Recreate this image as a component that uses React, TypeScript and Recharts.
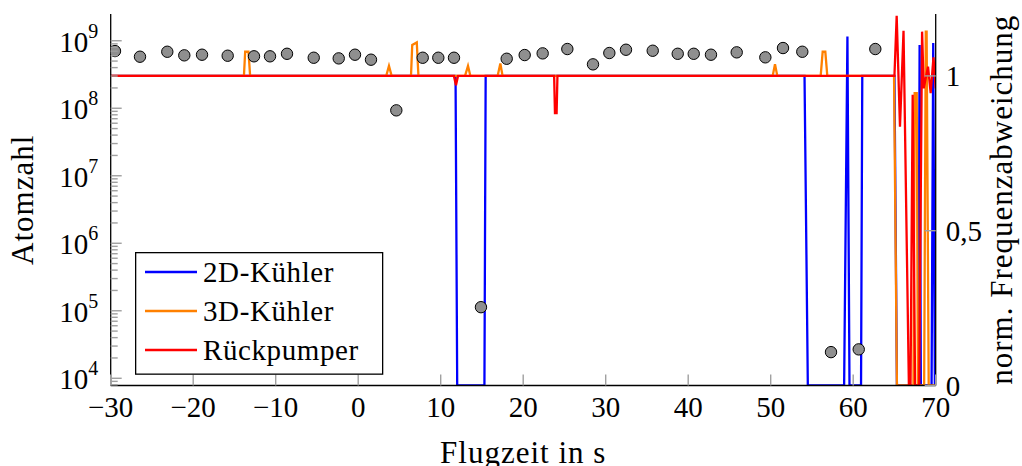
import React from 'react';
import { ComposedChart, Line, Scatter, XAxis, YAxis, Legend } from 'recharts';

const FONT = '"Liberation Serif", "Times New Roman", serif';

// ---------- axis ticks ----------
const xTicks = [-30, -20, -10, 0, 10, 20, 30, 40, 50, 60, 70];
const xTickLabels = ['\u221230', '\u221220', '\u221210', '0', '10', '20', '30', '40', '50', '60', '70'];
const leftMajorTicks = [1e4, 1e5, 1e6, 1e7, 1e8, 1e9];
const leftMajorExponents = ['4', '5', '6', '7', '8', '9'];
const leftMinorMultipliers = [2, 3, 4, 5, 6, 7, 8, 9];
const leftExtraMinorTicks = [8e3, 9e3];
const rightTicks = [0, 0.5, 1];
const rightTickLabels = ['0', '0,5', '1'];

// ---------- scatter: atom numbers ----------
const shotTimes = [-29.48, -26.45, -23.14, -21.08, -18.93, -15.82, -12.63, -10.69, -8.63, -5.39, -2.36, -0.39, 1.55, 4.62, 7.82, 9.71, 11.61, 14.88, 18.0, 20.18, 22.36, 25.35, 28.46, 30.44, 32.46, 35.7, 38.73, 40.67, 42.76, 45.88, 49.35, 51.49, 53.83, 57.31, 60.67, 62.68];
const atomNumbers = [7.03e8, 5.8e8, 6.87e8, 6.08e8, 6.21e8, 6.0e8, 5.88e8, 5.88e8, 6.41e8, 5.6e8, 5.48e8, 6.21e8, 5.24e8, 9.31e7, 5.6e8, 5.6e8, 5.6e8, 1.13e5, 5.41e8, 6.14e8, 6.5e8, 7.54e8, 4.47e8, 6.58e8, 7.36e8, 7.11e8, 6.41e8, 6.41e8, 6.21e8, 6.73e8, 5.68e8, 7.8e8, 6.87e8, 2.44e4, 2.68e4, 7.54e8];

// ---------- lines: normalised frequency deviation ----------
const cooler2DTimes = [-30, 11.8, 12.0, 15.3, 15.45, 54.1, 54.5, 58.9, 59.3, 59.55, 60.95, 61.1, 65.0, 65.3, 67.9, 68.05, 68.2, 69.5, 69.7, 69.9, 70];
const cooler2DValues = [1, 1, 0, 0, 1, 1, 0, 0, 1.127, 0, 0, 1, 1, 0, 0, 1.10, 0, 0, 1.106, 0, 0];

const cooler3DTimes = [-30, -13.85, -13.7, -13.3, -13.1, 3.4, 3.73, 4.05, 6.4, 6.55, 7.1, 7.3, 12.95, 13.31, 13.6, 16.9, 17.23, 17.5, 50.24, 50.52, 50.8, 56.06, 56.3, 56.62, 56.86, 64.95, 65.3, 67.3, 67.45, 67.7, 67.85, 68.6, 68.8, 68.9, 69.15, 70];
const cooler3DValues = [1, 1, 1.078, 1.078, 1, 1, 1.032, 1, 1, 1.10, 1.108, 1, 1, 1.032, 1, 1, 1.04, 1, 1, 1.038, 1, 1, 1.078, 1.078, 1, 1, 0, 0, 0.944, 0.944, 0, 0, 1.143, 1.143, 0, 0];

const repumperTimes = [-30, 11.6, 11.85, 12.1, 23.75, 23.85, 24.05, 24.15, 65.0, 65.27, 65.67, 66.1, 66.75, 66.95, 67.21, 67.5, 68.0, 68.35, 68.55, 69.07, 69.39, 69.73, 70];
const repumperValues = [1, 1, 0.97, 1, 1, 0.88, 0.88, 1, 1, 1.194, 0.836, 1.146, 0, 0, 0.939, 0, 0, 1.143, 0.96, 1.03, 0.944, 1.06, 0.96];

const seriesNames = ['2D-K\u00fchler', '3D-K\u00fchler', 'R\u00fcckpumper'];
const seriesColors = ['#0000ff', '#ff8000', '#ff0000'];

const zip = (ts: number[], vs: number[]) => ts.map((t, i) => ({ t, v: vs[i] }));
const scatterData = shotTimes.map((t, i) => ({ t, n: atomNumbers[i] }));
const lineData = [zip(cooler2DTimes, cooler2DValues), zip(cooler3DTimes, cooler3DValues), zip(repumperTimes, repumperValues)];

const leftTicks = [
  ...leftExtraMinorTicks,
  ...leftMajorTicks,
  ...leftMajorTicks.slice(0, -1).flatMap((m) => leftMinorMultipliers.map((k) => k * m)),
].sort((a, b) => a - b);

const TICK_COLOR = '#a0a0a0';
const TICK_FONT = 29;
const LABEL_FONT = 31;

const BottomTick = (props: any) => {
  const { x, y, payload } = props;
  const idx = xTicks.indexOf(payload.value);
  return (
    <g>
      <line x1={x} x2={x} y1={y} y2={y - 11} stroke={TICK_COLOR} strokeWidth={1.4} />
      <text x={x} y={y + 31.5} textAnchor="middle" fontFamily={FONT} fontSize={TICK_FONT} fill="#000">
        {xTickLabels[idx]}
      </text>
    </g>
  );
};

const TopTick = (props: any) => {
  const { x, y } = props;
  return <line x1={x} x2={x} y1={y} y2={y + 11} stroke={TICK_COLOR} strokeWidth={1.4} />;
};

const LeftTick = (props: any) => {
  const { x, y, payload } = props;
  const majorIdx = leftMajorTicks.findIndex((m) => Math.abs(m - payload.value) / m < 1e-9);
  const isMajor = majorIdx >= 0;
  return (
    <g>
      <line x1={x} x2={x + (isMajor ? 11 : 7)} y1={y} y2={y} stroke={TICK_COLOR} strokeWidth={1.4} />
      {isMajor && (
        <text x={x - 12.5} y={y + 11} textAnchor="end" fontFamily={FONT} fontSize={TICK_FONT} fill="#000">
          10
          <tspan dy={-14} fontSize={20}>{leftMajorExponents[majorIdx]}</tspan>
        </text>
      )}
    </g>
  );
};

const RightTick = (props: any) => {
  const { x, y, payload } = props;
  const idx = rightTicks.indexOf(payload.value);
  return (
    <g>
      <line x1={x} x2={x - 11} y1={y} y2={y} stroke={TICK_COLOR} strokeWidth={1.4} />
      <text x={x + 10} y={y + 10} textAnchor="start" fontFamily={FONT} fontSize={TICK_FONT} fill="#000">
        {rightTickLabels[idx]}
      </text>
    </g>
  );
};

const LegendBox = () => (
  <svg width={249} height={123} style={{ display: 'block' }}>
    <rect x={0.65} y={0.65} width={247} height={121.5} fill="#fff" stroke="#000" strokeWidth={1.3} />
    {seriesNames.map((name, i) => {
      const cy = 20 + 39 * i;
      return (
        <g key={name}>
          <line x1={10} x2={62} y1={cy} y2={cy} stroke={seriesColors[i]} strokeWidth={2.3} />
          <text x={68} y={cy + 10} fontFamily={FONT} fontSize={29} letterSpacing={0.6} fill="#000">
            {name}
          </text>
        </g>
      );
    })}
  </svg>
);

const Dot = (p: any) => (
  <circle cx={p.cx} cy={p.cy} r={5.7} fill="#8f8f8f" stroke="#000" strokeWidth={1} />
);

export default function App() {
  return (
    <div style={{ position: 'absolute', left: 0, top: 0, width: 1022, height: 466, background: '#fff' }}>
      <ComposedChart width={1022} height={466} margin={{ top: 14, right: 0, bottom: 0, left: 0 }}>
        <XAxis
          xAxisId="bottom"
          dataKey="t"
          type="number"
          domain={[-30, 70]}
          allowDataOverflow
          ticks={xTicks}
          interval={0}
          height={80.5}
          tickSize={0}
          tickMargin={0}
          tickLine={false}
          tick={<BottomTick />}
          axisLine={{ stroke: '#000', strokeWidth: 1.3 }}
          label={{
            value: 'Flugzeit in s',
            position: 'insideBottom',
            offset: 3.3,
            style: { fontFamily: FONT, fontSize: LABEL_FONT, fill: '#000', letterSpacing: 1 },
          }}
        />
        <XAxis
          xAxisId="top"
          orientation="top"
          dataKey="t"
          type="number"
          domain={[-30, 70]}
          allowDataOverflow
          ticks={xTicks}
          interval={0}
          height={0}
          tickSize={0}
          tickMargin={0}
          tickLine={false}
          tick={<TopTick />}
          axisLine={{ stroke: '#000', strokeWidth: 1.3 }}
        />
        <YAxis
          yAxisId="left"
          type="number"
          scale="log"
          domain={[7816, 2.49e9]}
          allowDataOverflow
          ticks={leftTicks}
          interval={0}
          width={110.7}
          tickSize={0}
          tickMargin={0}
          tickLine={false}
          tick={<LeftTick />}
          axisLine={{ stroke: '#000', strokeWidth: 1.3 }}
          label={{
            value: 'Atomzahl',
            angle: -90,
            position: 'insideLeft',
            offset: 22,
            style: { fontFamily: FONT, fontSize: LABEL_FONT, fill: '#000', textAnchor: 'middle', letterSpacing: 1 },
          }}
        />
        <YAxis
          yAxisId="right"
          orientation="right"
          type="number"
          domain={[0, 1.2]}
          allowDataOverflow
          ticks={rightTicks}
          interval={0}
          width={86.3}
          tickSize={0}
          tickMargin={0}
          tickLine={false}
          tick={<RightTick />}
          axisLine={{ stroke: '#000', strokeWidth: 1.3 }}
          label={{
            value: 'norm. Frequenzabweichung',
            angle: -90,
            position: 'insideRight',
            offset: 21,
            style: { fontFamily: FONT, fontSize: LABEL_FONT, fill: '#000', textAnchor: 'middle', letterSpacing: 1 },
          }}
        />
        <Scatter
          xAxisId="bottom"
          yAxisId="left"
          data={scatterData}
          dataKey="n"
          shape={<Dot />}
          isAnimationActive={false}
          legendType="none"
        />
        {lineData.map((d, i) => (
          <Line
            key={seriesNames[i]}
            xAxisId="bottom"
            yAxisId="right"
            data={d}
            dataKey="v"
            name={seriesNames[i]}
            type="linear"
            stroke={seriesColors[i]}
            strokeWidth={2.3}
            dot={false}
            activeDot={false}
            isAnimationActive={false}
          />
        ))}
        <Legend
          layout="vertical"
          align="center"
          verticalAlign="middle"
          content={<LegendBox />}
          wrapperStyle={{ left: 135, top: 252, width: 249, height: 123 }}
        />
      </ComposedChart>
    </div>
  );
}
